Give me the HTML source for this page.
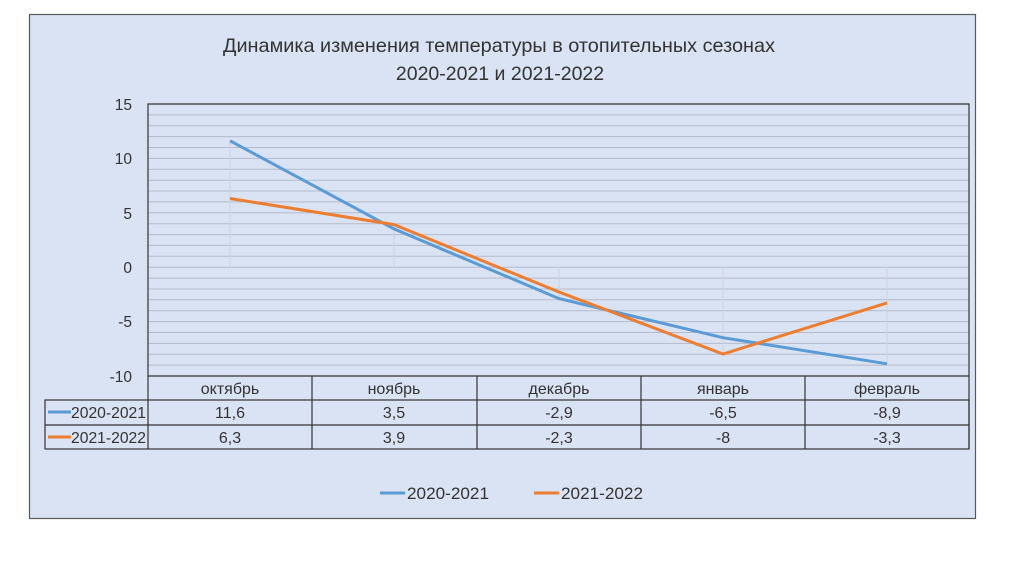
<!DOCTYPE html>
<html><head><meta charset="utf-8"><style>
body{margin:0;background:#fff;}
svg{display:block;font-family:"Liberation Sans","DejaVu Sans",sans-serif;}
</style></head><body>
<svg width="1024" height="574" viewBox="0 0 1024 574">
<rect x="29.5" y="14.5" width="946" height="504" fill="#dae3f3" stroke="#595959" stroke-width="1.2"/>
<text x="499" y="52" font-size="19.5" text-anchor="middle" fill="#333" textLength="552" lengthAdjust="spacingAndGlyphs">Динамика изменения температуры в отопительных сезонах</text>
<text x="500" y="80" font-size="19.5" text-anchor="middle" fill="#333">2020-2021 и 2021-2022</text>
<g stroke="#b4bccb" stroke-width="1">
<line x1="148" x2="969" y1="114.9" y2="114.9"/><line x1="148" x2="969" y1="125.8" y2="125.8"/><line x1="148" x2="969" y1="136.6" y2="136.6"/><line x1="148" x2="969" y1="147.5" y2="147.5"/><line x1="148" x2="969" y1="158.4" y2="158.4"/><line x1="148" x2="969" y1="169.3" y2="169.3"/><line x1="148" x2="969" y1="180.2" y2="180.2"/><line x1="148" x2="969" y1="191.0" y2="191.0"/><line x1="148" x2="969" y1="201.9" y2="201.9"/><line x1="148" x2="969" y1="212.8" y2="212.8"/><line x1="148" x2="969" y1="223.7" y2="223.7"/><line x1="148" x2="969" y1="234.6" y2="234.6"/><line x1="148" x2="969" y1="245.4" y2="245.4"/><line x1="148" x2="969" y1="256.3" y2="256.3"/><line x1="148" x2="969" y1="267.2" y2="267.2"/><line x1="148" x2="969" y1="278.1" y2="278.1"/><line x1="148" x2="969" y1="289.0" y2="289.0"/><line x1="148" x2="969" y1="299.8" y2="299.8"/><line x1="148" x2="969" y1="310.7" y2="310.7"/><line x1="148" x2="969" y1="321.6" y2="321.6"/><line x1="148" x2="969" y1="332.5" y2="332.5"/><line x1="148" x2="969" y1="343.4" y2="343.4"/><line x1="148" x2="969" y1="354.2" y2="354.2"/><line x1="148" x2="969" y1="365.1" y2="365.1"/>
</g>
<g stroke="#cdd3de" stroke-width="1">
<line x1="230" x2="230" y1="140" y2="267"/><line x1="394" x2="394" y1="225" y2="267"/><line x1="559" x2="559" y1="267" y2="298"/><line x1="723" x2="723" y1="267" y2="354"/><line x1="887" x2="887" y1="267" y2="364"/>
</g>
<g font-size="15.5" fill="#333" text-anchor="end">
<text x="132" y="110">15</text><text x="132" y="164">10</text><text x="132" y="219">5</text><text x="132" y="273">0</text><text x="132" y="327">-5</text><text x="132" y="382">-10</text>
</g>
<polyline points="230,140.8 394,228.9 559,298.6 723,337.7 887,363.8" fill="none" stroke="#5b9bd5" stroke-width="3"/>
<polyline points="230,198.5 394,224.6 559,292 723,354 887,302.9" fill="none" stroke="#ed7d31" stroke-width="3"/>
<g stroke="#333" stroke-width="1.2" fill="none">
<polyline points="148,376 148,104 969,104 969,449"/>
<line x1="148" y1="376" x2="969" y2="376"/>
<rect x="45" y="400" width="924" height="49"/>
<line x1="45" y1="425" x2="969" y2="425"/>
<line x1="148" y1="376" x2="148" y2="449"/>
<line x1="312" y1="376" x2="312" y2="449"/><line x1="477" y1="376" x2="477" y2="449"/><line x1="641" y1="376" x2="641" y2="449"/><line x1="805" y1="376" x2="805" y2="449"/>
</g>
<g font-size="16" fill="#333" text-anchor="middle">
<text x="230" y="394">октябрь</text><text x="394" y="394">ноябрь</text><text x="559" y="394">декабрь</text><text x="723" y="394">январь</text><text x="887" y="394">февраль</text>
<text x="230" y="418">11,6</text><text x="394" y="418">3,5</text><text x="559" y="418">-2,9</text><text x="723" y="418">-6,5</text><text x="887" y="418">-8,9</text>
<text x="230" y="443">6,3</text><text x="394" y="443">3,9</text><text x="559" y="443">-2,3</text><text x="723" y="443">-8</text><text x="887" y="443">-3,3</text>
</g>
<line x1="48" y1="412" x2="71" y2="412" stroke="#5b9bd5" stroke-width="3"/>
<line x1="48" y1="437" x2="71" y2="437" stroke="#ed7d31" stroke-width="3"/>
<g font-size="16" fill="#333"><text x="71" y="418" textLength="75" lengthAdjust="spacingAndGlyphs">2020-2021</text><text x="71" y="443" textLength="75" lengthAdjust="spacingAndGlyphs">2021-2022</text></g>
<line x1="380" y1="493" x2="405" y2="493" stroke="#5b9bd5" stroke-width="3"/>
<line x1="534" y1="493" x2="559" y2="493" stroke="#ed7d31" stroke-width="3"/>
<g font-size="17" fill="#333"><text x="407" y="499" textLength="82" lengthAdjust="spacingAndGlyphs">2020-2021</text><text x="561" y="499" textLength="82" lengthAdjust="spacingAndGlyphs">2021-2022</text></g>
</svg>
</body></html>
